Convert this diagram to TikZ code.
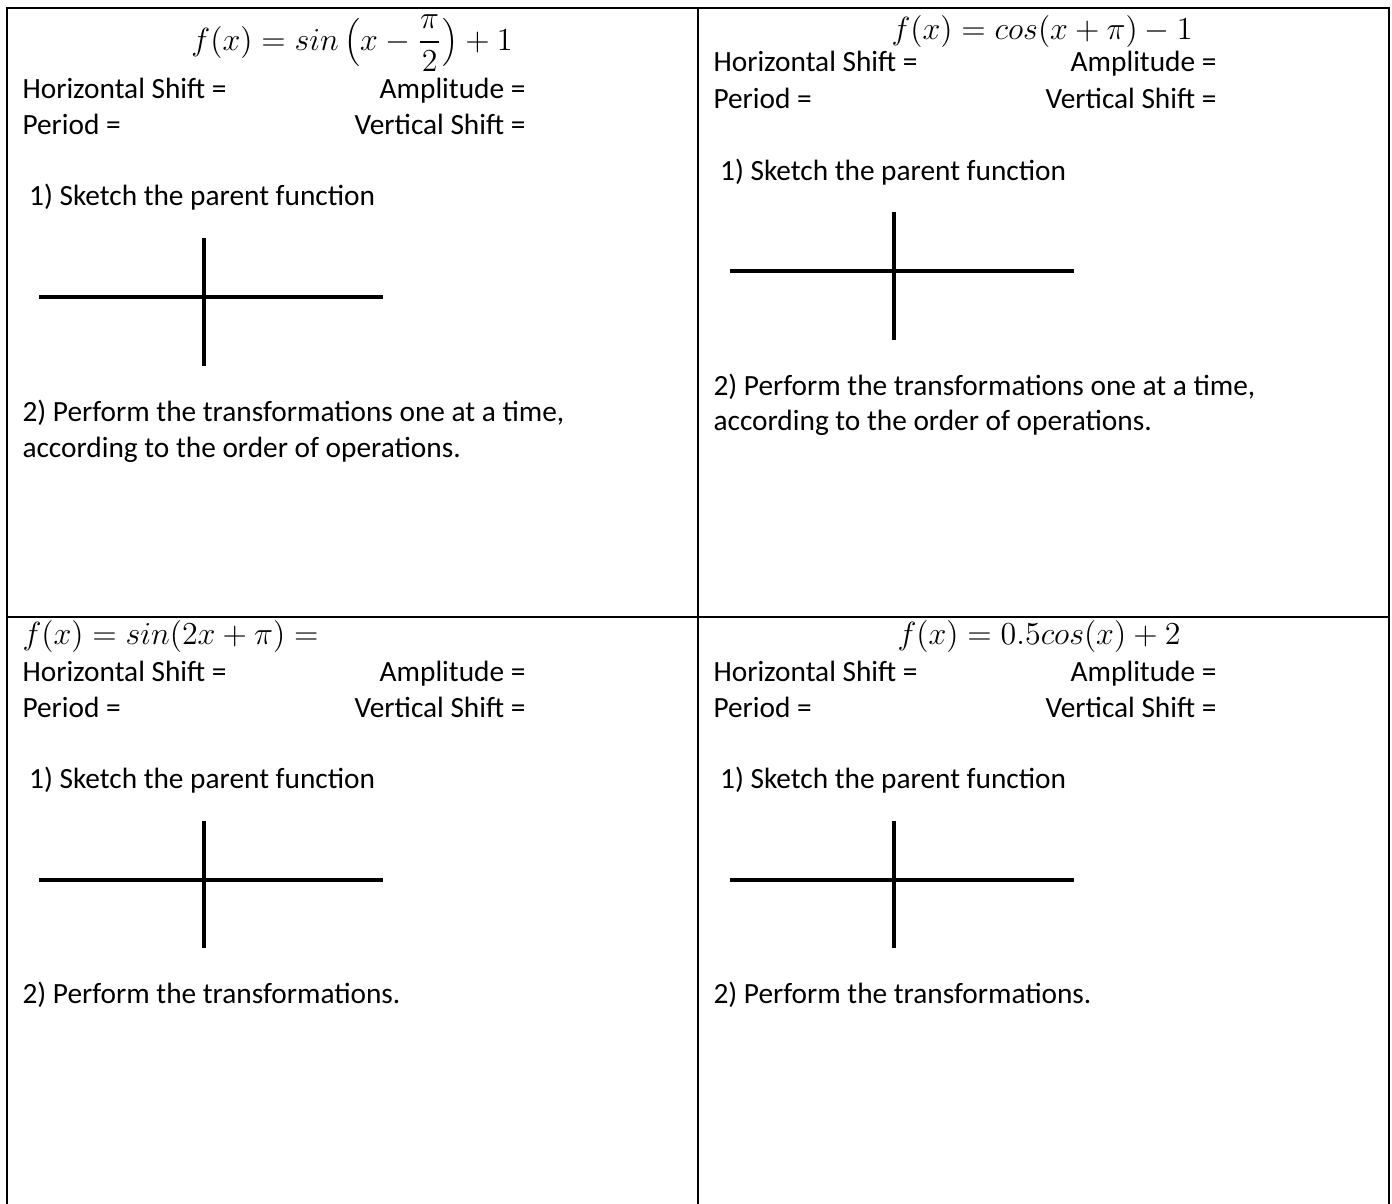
\documentclass[tikz,border=0pt]{standalone}
\usepackage{fontspec}
\setmainfont{Carlito}
\begin{document}
\begin{tikzpicture}[x=0.375pt,y=-0.375pt,
  txt/.style={anchor=base west, inner sep=0pt, font=\fontsize{11}{13.4}\selectfont},
  rtxt/.style={anchor=base east, inner sep=0pt, font=\fontsize{11}{13.4}\selectfont},
  frm/.style={anchor=base, inner sep=0pt, font=\fontsize{11.5}{13.5}\selectfont},
  lfrm/.style={anchor=base west, inner sep=0pt, font=\fontsize{11.5}{13.5}\selectfont},
  border/.style={line width=1pt, line cap=rect},
  axisline/.style={line width=1.2pt}]
\useasboundingbox (0,0) rectangle (1392,1203);
% table borders
\coordinate (tl) at (7,8);
\coordinate (tr) at (1389,8);
\coordinate (bl) at (7,1203);
\coordinate (br) at (1389,1203);
\coordinate (tm) at (698,8);
\coordinate (bm) at (698,1203);
\coordinate (ml) at (7,617);
\coordinate (mr) at (1389,617);
\draw[border] (bl) -- (tl) -- (tr) -- (br);
\draw[border] (tm) -- (bm);
\draw[border] (ml) -- (mr);

% ---------- Quadrant 1 ----------
\node[frm] (f1) at (352,50) {$\displaystyle f(x) = sin\,\Bigl(x-\frac{\pi}{2}\Bigr)+1$};
\node[txt] (h1) at (22,98) {Horizontal Shift =};
\node[rtxt] (a1) at (526,98) {Amplitude =};
\node[txt] (p1) at (22,134) {Period =};
\node[rtxt] (v1) at (526,134) {Vertical Shift =};
\node[txt] (s1) at (22,205) {\ 1) Sketch the parent function};
\node[txt] (t1a) at (22,421) {2) Perform the transformations one at a time,};
\node[txt] (t1b) at (22,457) {according to the order of operations.};
\coordinate (x1l) at (39,297); \coordinate (x1r) at (383,297);
\coordinate (y1t) at (204,238); \coordinate (y1b) at (204,366);
\draw[axisline] (x1l) -- (x1r);
\draw[axisline] (y1t) -- (y1b);

% ---------- Quadrant 2 ----------
\node[frm] (f2) at (1042,39) {$f(x) = cos(x+\pi)-1$};
\node[txt] (h2) at (713,72) {Horizontal Shift =};
\node[rtxt] (a2) at (1217,72) {Amplitude =};
\node[txt] (p2) at (713,108) {Period =};
\node[rtxt] (v2) at (1217,108) {Vertical Shift =};
\node[txt] (s2) at (713,180) {\ 1) Sketch the parent function};
\node[txt] (t2a) at (713,395) {2) Perform the transformations one at a time,};
\node[txt] (t2b) at (713,430) {according to the order of operations.};
\coordinate (x2l) at (730,271); \coordinate (x2r) at (1074,271);
\coordinate (y2t) at (894,212); \coordinate (y2b) at (894,340);
\draw[axisline] (x2l) -- (x2r);
\draw[axisline] (y2t) -- (y2b);

% ---------- Quadrant 3 ----------
\node[lfrm] (f3) at (22,644) {$f(x) = sin(2x+\pi) =$};
\node[txt] (h3) at (22,681) {Horizontal Shift =};
\node[rtxt] (a3) at (526,681) {Amplitude =};
\node[txt] (p3) at (22,717) {Period =};
\node[rtxt] (v3) at (526,717) {Vertical Shift =};
\node[txt] (s3) at (22,788) {\ 1) Sketch the parent function};
\node[txt] (t3) at (22,1003) {2) Perform the transformations.};
\coordinate (x3l) at (39,880); \coordinate (x3r) at (383,880);
\coordinate (y3t) at (204,821); \coordinate (y3b) at (204,948);
\draw[axisline] (x3l) -- (x3r);
\draw[axisline] (y3t) -- (y3b);

% ---------- Quadrant 4 ----------
\node[frm] (f4) at (1039,644) {$f(x) = 0.5cos(x)+2$};
\node[txt] (h4) at (713,681) {Horizontal Shift =};
\node[rtxt] (a4) at (1217,681) {Amplitude =};
\node[txt] (p4) at (713,717) {Period =};
\node[rtxt] (v4) at (1217,717) {Vertical Shift =};
\node[txt] (s4) at (713,788) {\ 1) Sketch the parent function};
\node[txt] (t4) at (713,1003) {2) Perform the transformations.};
\coordinate (x4l) at (730,880); \coordinate (x4r) at (1074,880);
\coordinate (y4t) at (894,821); \coordinate (y4b) at (894,948);
\draw[axisline] (x4l) -- (x4r);
\draw[axisline] (y4t) -- (y4b);
\end{tikzpicture}
\end{document}
